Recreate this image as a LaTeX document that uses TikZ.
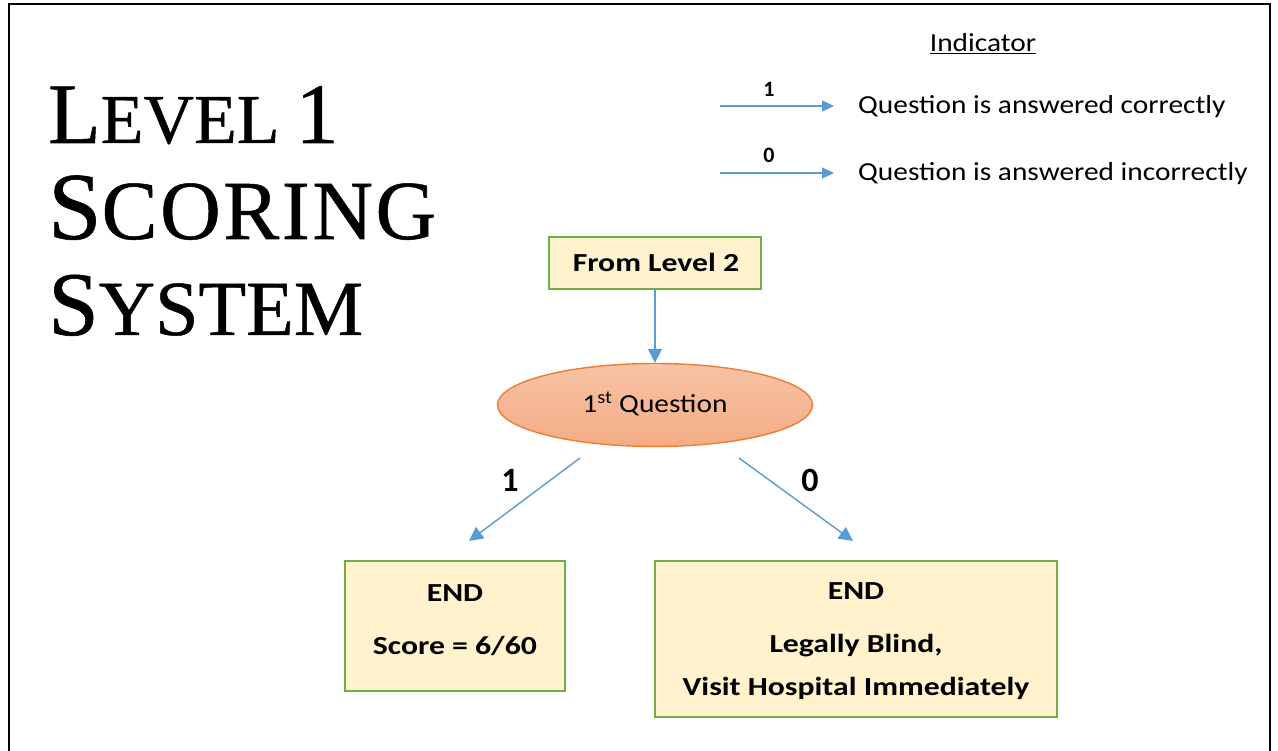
\documentclass[tikz,border=0pt]{standalone}
\usepackage{fontspec}
\setmainfont{Carlito}
\newfontfamily\regw[FakeStretch=1.13]{Carlito}
\newfontfamily\boldw[FakeStretch=1.22]{Carlito}
\newfontfamily\titlefont[FakeBold=0.6]{Liberation Serif}
\usetikzlibrary{arrows.meta,shapes.geometric}
\definecolor{boxfill}{HTML}{FFF2CC}
\definecolor{boxline}{HTML}{70AD47}
\definecolor{arr}{HTML}{5B9BD5}
\definecolor{ellline}{HTML}{ED7D31}
\definecolor{elltop}{HTML}{F8C3A6}
\definecolor{ellbot}{HTML}{F4AC85}
\tikzset{
  endbox/.style={draw=boxline, fill=boxfill, line width=1.6pt, inner sep=0pt},
  flow/.style={draw=arr, line width=1.4pt, -{Triangle[length=14pt,width=14pt]}},
  legarrow/.style={draw=arr, line width=1.3pt, -{Triangle[length=12pt,width=11pt]}},
  lab/.style={font=\fontsize{34}{34}\selectfont\bfseries, inner sep=0pt, anchor=base},
  leglab/.style={font=\fontsize{22}{22}\selectfont\bfseries, inner sep=0pt, anchor=base},
  txt/.style={font=\regw\fontsize{26}{30}\selectfont, inner sep=0pt, anchor=base west},
  ctxt/.style={font=\regw\fontsize{26}{30}\selectfont, inner sep=0pt, anchor=base},
  btxt/.style={font=\boldw\fontsize{26}{30}\selectfont\bfseries, inner sep=0pt, anchor=base},
  ttl/.style={inner sep=0pt, anchor=base west}
}
\begin{document}
\begin{tikzpicture}[x=1pt,y=-1pt]
\useasboundingbox (0,0) rectangle (1278,751);
\fill[white] (0,0) rectangle (1278,751);
% frame
\draw[line width=2.2pt] (9,752) -- (9,4) -- (1270,4) -- (1270,752);

% title
\node[ttl] (t1) at (48,143) {\titlefont{\fontsize{86}{86}\selectfont L}{\fontsize{70}{70}\selectfont EVEL}\hspace{16pt}{\fontsize{86}{86}\selectfont 1}};
\node[ttl] (t2) at (48,239) {\titlefont{\fontsize{96}{96}\selectfont S}{\fontsize{84}{84}\selectfont\addfontfeatures{LetterSpace=3} CORING}};
\node[ttl] (t3) at (48,335) {\titlefont{\fontsize{91}{91}\selectfont S}{\fontsize{78}{78}\selectfont YSTEM}};

% indicator legend
\node[ctxt] (ind) at (983,52) {\underline{Indicator}};
\coordinate (a1s) at (720,106);
\coordinate (a1e) at (834,106);
\coordinate (a0s) at (720,173);
\coordinate (a0e) at (834,173);
\draw[legarrow] (a1s) -- (a1e);
\draw[legarrow] (a0s) -- (a0e);
\node[leglab] (l1) at (769,97) {1};
\node[leglab] (l0) at (769,163) {0};
\node[txt] (q1) at (858,114) {Question is answered correctly};
\node[txt] (q0) at (858,181) {Question is answered incorrectly};

% flow
\node[endbox, minimum width=212pt, minimum height=52pt] (from) at (655,263) {};
\node[btxt] at (656,272) {From Level 2};

\node[ellipse, draw=ellline, line width=1.4pt, top color=elltop, bottom color=ellbot,
      minimum width=315pt, minimum height=83pt, inner sep=0pt] (q) at (655,405) {};
\node[ctxt] at (655,413) {1\textsuperscript{st} Question};

\draw[flow] (from.south) -- (q.north);

\node[endbox, minimum width=220pt, minimum height=130pt] (e1) at (455,626) {};
\node[btxt] at (455,601) {END};
\node[btxt] at (455,654) {Score = 6/60};

\node[endbox, minimum width=402pt, minimum height=156pt] (e0) at (856,639) {};
\node[btxt] at (856,599) {END};
\node[btxt] at (856,652) {Legally Blind,};
\node[btxt] at (856,695) {Visit Hospital Immediately};

\coordinate (d1s) at (580,458);
\coordinate (d1e) at (469,541);
\coordinate (d0s) at (739,458);
\coordinate (d0e) at (853,541);
\draw[flow] (d1s) -- (d1e);
\draw[flow] (d0s) -- (d0e);
\node[lab] (n1) at (510,491) {1};
\node[lab] (n0) at (810,491) {0};
\end{tikzpicture}
\end{document}
